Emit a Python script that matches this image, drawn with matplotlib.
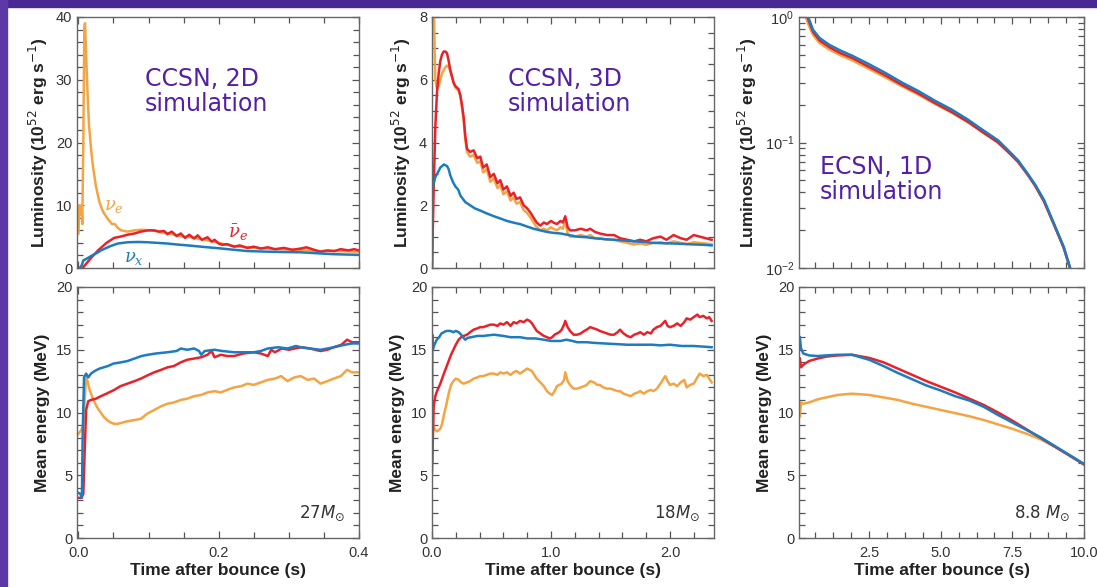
import matplotlib
matplotlib.use("Agg")
import matplotlib.pyplot as plt
from matplotlib.patches import Rectangle
from matplotlib.ticker import MultipleLocator, LogLocator, NullFormatter

plt.rcParams['font.family'] = ['Liberation Sans', 'DejaVu Sans']
plt.rcParams['mathtext.fontset'] = 'dejavusans'

ORANGE = '#f5a443'
RED = '#e8222a'
BLUE = '#1d7cc0'
PURPLE = '#5420a8'
INK = '#333333'

# ---- panel 1: CCSN 2D, 27 Msun ----
p1_t_nue = [0, 0.0015, 0.003, 0.0045, 0.0055, 0.007, 0.0085, 0.0095, 0.011, 0.013,
            0.015, 0.018, 0.021, 0.025, 0.03, 0.035, 0.042, 0.048, 0.052, 0.056,
            0.061, 0.07, 0.08, 0.09, 0.1, 0.11, 0.12, 0.13, 0.14, 0.15,
            0.16, 0.17, 0.18, 0.19, 0.2, 0.22, 0.25, 0.28, 0.31, 0.34,
            0.37, 0.4]
p1_lum_nue = [5.5, 10, 8.5, 10, 7, 20, 38.5, 39, 34, 28,
              23, 19, 16, 13, 10.5, 9.0, 7.8, 7.0, 7.0, 6.4,
              6.0, 5.8, 6.0, 6.1, 6.0, 5.9, 5.6, 5.5, 5.2, 5.0,
              4.9, 4.7, 4.5, 4.3, 4.0, 3.5, 3.2, 3.0, 2.9, 2.7,
              2.7, 2.6]
p1_t_nuebar = [0.006, 0.012, 0.018, 0.023, 0.028, 0.032, 0.04, 0.051, 0.06, 0.07,
               0.08, 0.089, 0.099, 0.108, 0.115, 0.122, 0.127, 0.133, 0.14, 0.146,
               0.152, 0.158, 0.165, 0.17, 0.176, 0.184, 0.19, 0.194, 0.2, 0.205,
               0.212, 0.222, 0.23, 0.241, 0.25, 0.26, 0.27, 0.28, 0.293, 0.305,
               0.317, 0.325, 0.336, 0.345, 0.355, 0.365, 0.374, 0.385, 0.393, 0.4]
p1_lum_nuebar = [0, 0.8, 1.6, 2.2, 2.8, 3.2, 4.0, 4.8, 5.0, 5.3,
                 5.5, 5.8, 6.0, 6.0, 5.8, 5.9, 5.4, 5.8, 5.1, 5.5,
                 4.8, 5.3, 4.7, 5.2, 4.5, 4.9, 4.2, 4.5, 3.9, 3.7,
                 3.8, 3.4, 3.6, 3.2, 3.4, 3.1, 3.3, 3.0, 3.2, 2.9,
                 3.1, 3.3, 2.9, 2.6, 2.8, 2.7, 3.0, 2.8, 3.0, 2.8]
p1_t_nux = [0.002, 0.005, 0.007, 0.012, 0.018, 0.023, 0.028, 0.032, 0.04, 0.046,
            0.056, 0.07, 0.085, 0.099, 0.113, 0.127, 0.14, 0.156, 0.17, 0.184,
            0.2, 0.213, 0.227, 0.241, 0.255, 0.27, 0.29, 0.317, 0.34, 0.364,
            0.38, 0.4]
p1_lum_nux = [0, 0.5, 1.2, 1.5, 1.9, 2.2, 2.5, 2.8, 3.2, 3.5,
              3.9, 4.1, 4.15, 4.1, 4.0, 3.9, 3.75, 3.6, 3.45, 3.3,
              3.15, 3.0, 2.85, 2.7, 2.65, 2.6, 2.55, 2.5, 2.35, 2.2,
              2.15, 2.1]

p1_te_nue = [0, 0.004, 0.007, 0.009, 0.011, 0.013, 0.016, 0.02, 0.024, 0.028,
             0.033, 0.037, 0.042, 0.046, 0.051, 0.056, 0.063, 0.07, 0.08, 0.089,
             0.098, 0.108, 0.118, 0.127, 0.136, 0.146, 0.155, 0.165, 0.175, 0.184,
             0.194, 0.203, 0.212, 0.222, 0.232, 0.241, 0.25, 0.26, 0.27, 0.28,
             0.289, 0.298, 0.308, 0.317, 0.327, 0.336, 0.345, 0.355, 0.364, 0.374,
             0.383, 0.39, 0.4]
p1_e_nue = [8.3, 8.6, 9.0, 11, 12.8, 12.5, 11.8, 11.2, 10.7, 10.3,
            9.9, 9.6, 9.35, 9.2, 9.1, 9.1, 9.2, 9.3, 9.4, 9.5,
            9.9, 10.2, 10.5, 10.7, 10.8, 11.0, 11.1, 11.3, 11.4, 11.6,
            11.7, 11.6, 11.8, 12.0, 12.1, 12.3, 12.2, 12.4, 12.6, 12.7,
            12.9, 12.5, 12.8, 12.9, 12.6, 12.7, 12.3, 12.5, 12.7, 12.9,
            13.4, 13.2, 13.2]
p1_te_nuebar = [0, 0.004, 0.007, 0.009, 0.011, 0.014, 0.018, 0.025, 0.032, 0.04,
                0.051, 0.06, 0.07, 0.08, 0.089, 0.1, 0.108, 0.118, 0.127, 0.136,
                0.146, 0.155, 0.165, 0.175, 0.184, 0.19, 0.194, 0.203, 0.212, 0.222,
                0.235, 0.25, 0.26, 0.27, 0.275, 0.28, 0.29, 0.3, 0.317, 0.33,
                0.345, 0.355, 0.364, 0.375, 0.383, 0.39, 0.4]
p1_e_nuebar = [3.2, 3.2, 3.5, 7, 10.2, 10.9, 11.0, 11.1, 11.3, 11.5,
               11.8, 12.1, 12.3, 12.5, 12.7, 13.0, 13.2, 13.4, 13.6, 13.7,
               14.0, 14.2, 14.3, 14.4, 14.6, 14.9, 14.4, 14.6, 14.5, 14.5,
               14.7, 14.8, 14.7, 14.5, 15.0, 14.8, 15.1, 15.0, 15.2, 15.1,
               14.9, 15.0, 15.2, 15.4, 15.8, 15.6, 15.6]
p1_te_nux = [0, 0.003, 0.005, 0.006, 0.008, 0.011, 0.014, 0.018, 0.023, 0.03,
             0.042, 0.05, 0.061, 0.07, 0.08, 0.09, 0.099, 0.11, 0.127, 0.14,
             0.146, 0.155, 0.165, 0.172, 0.175, 0.18, 0.194, 0.205, 0.222, 0.235,
             0.25, 0.26, 0.27, 0.285, 0.298, 0.31, 0.317, 0.33, 0.345, 0.355,
             0.364, 0.38, 0.39, 0.4]
p1_e_nux = [3.6, 3.5, 3.2, 8, 12.8, 13.1, 12.8, 13.1, 13.3, 13.5,
            13.7, 13.9, 14.0, 14.1, 14.3, 14.5, 14.6, 14.7, 14.8, 14.9,
            15.1, 15.0, 15.1, 14.9, 14.6, 14.9, 15.0, 14.9, 14.8, 14.8,
            14.8, 14.9, 15.1, 15.2, 15.1, 15.3, 15.2, 15.1, 15.0, 15.1,
            15.2, 15.4, 15.5, 15.5]

# ---- panel 2: CCSN 3D, 18 Msun ----
p2_t = [0.0, 0.014, 0.028, 0.042, 0.056, 0.07, 0.084, 0.098, 0.112, 0.126,
        0.14, 0.154, 0.168, 0.182, 0.196, 0.21, 0.224, 0.238, 0.252, 0.266,
        0.28, 0.294, 0.32, 0.35, 0.38, 0.406, 0.43, 0.46, 0.49, 0.52,
        0.55, 0.574, 0.6, 0.63, 0.66, 0.686, 0.71, 0.74, 0.77, 0.8,
        0.83, 0.854, 0.88, 0.91, 0.94, 0.966, 1.0, 1.02, 1.05, 1.08,
        1.1, 1.12, 1.14, 1.16, 1.2, 1.25, 1.3, 1.33, 1.37, 1.41,
        1.47, 1.53, 1.58, 1.64, 1.7, 1.75, 1.8, 1.86, 1.92, 1.97,
        2.03, 2.09, 2.14, 2.2, 2.25, 2.3, 2.35]
p2_lum_nuebar = [0.0, 2.5, 4.5, 5.6, 6.2, 6.6, 6.8, 6.9, 6.9, 6.85,
                 6.6, 6.3, 6.1, 5.9, 5.8, 5.75, 5.7, 5.5, 5.2, 4.8,
                 4.2, 3.8, 3.7, 3.75, 3.5, 3.55, 3.2, 3.3, 2.9, 3.0,
                 2.7, 2.8, 2.5, 2.6, 2.3, 2.4, 2.2, 2.25, 2.0, 1.9,
                 1.75, 1.6, 1.45, 1.35, 1.45, 1.4, 1.5, 1.45, 1.4, 1.5,
                 1.45, 1.65, 1.3, 1.2, 1.2, 1.25, 1.2, 1.25, 1.15, 1.1,
                 1.05, 1.05, 0.95, 0.9, 0.85, 0.9, 0.85, 0.95, 1.0, 0.9,
                 1.05, 0.95, 0.9, 1.05, 1.0, 0.95, 0.9]
p2_lum_nue = [8.5, 8.5, 6.0, 5.7, 5.8, 6.0, 6.2, 6.3, 6.4, 6.45,
              6.4, 6.3, 6.1, 5.9, 5.75, 5.7, 5.65, 5.5, 5.1, 4.7,
              4.1, 3.7, 3.55, 3.6, 3.35, 3.4, 3.05, 3.15, 2.75, 2.85,
              2.55, 2.65, 2.35, 2.45, 2.15, 2.25, 2.05, 2.1, 1.85, 1.75,
              1.6, 1.45, 1.3, 1.2, 1.25, 1.2, 1.3, 1.25, 1.2, 1.3,
              1.25, 1.5, 1.1, 1.0, 1.0, 1.05, 1.0, 1.05, 0.95, 0.95,
              0.9, 0.9, 0.85, 0.8, 0.75, 0.78, 0.74, 0.8, 0.82, 0.78,
              0.85, 0.8, 0.76, 0.82, 0.8, 0.78, 0.75]
p2_t_nux = [0, 0.005, 0.014, 0.028, 0.05, 0.07, 0.1, 0.126, 0.14, 0.154,
            0.175, 0.196, 0.22, 0.24, 0.26, 0.28, 0.3, 0.32, 0.36, 0.406,
            0.46, 0.52, 0.58, 0.63, 0.69, 0.74, 0.8, 0.854, 0.91, 0.966,
            1.02, 1.08, 1.15, 1.22, 1.3, 1.36, 1.45, 1.53, 1.6, 1.7,
            1.78, 1.86, 1.95, 2.03, 2.1, 2.2, 2.28, 2.35]
p2_lum_nux = [0, 2.5, 2.7, 2.9, 3.05, 3.2, 3.3, 3.25, 3.15, 2.95,
              2.75, 2.6, 2.5, 2.3, 2.2, 2.1, 2.05, 2.0, 1.9, 1.83,
              1.74, 1.65, 1.57, 1.5, 1.44, 1.4, 1.32, 1.25, 1.2, 1.15,
              1.12, 1.1, 1.05, 1.0, 0.98, 0.95, 0.92, 0.9, 0.88, 0.85,
              0.83, 0.8, 0.79, 0.78, 0.77, 0.75, 0.74, 0.72]

p2e_t = [0, 0.014, 0.028, 0.042, 0.056, 0.07, 0.085, 0.1, 0.12, 0.14,
         0.16, 0.18, 0.2, 0.224, 0.245, 0.266, 0.294, 0.32, 0.35, 0.38,
         0.406, 0.43, 0.46, 0.49, 0.52, 0.55, 0.574, 0.6, 0.63, 0.66,
         0.686, 0.71, 0.74, 0.77, 0.8, 0.82, 0.84, 0.86, 0.88, 0.91,
         0.94, 0.966, 0.99, 1.01, 1.03, 1.05, 1.07, 1.09, 1.11, 1.12,
         1.14, 1.16, 1.19, 1.22, 1.25, 1.28, 1.3, 1.33, 1.36, 1.39,
         1.41, 1.44, 1.47, 1.5, 1.53, 1.56, 1.58, 1.61, 1.64, 1.67,
         1.7, 1.73, 1.75, 1.78, 1.81, 1.84, 1.86, 1.89, 1.92, 1.94,
         1.96, 1.98, 2.0, 2.03, 2.06, 2.09, 2.12, 2.14, 2.17, 2.2,
         2.23, 2.25, 2.28, 2.31, 2.33, 2.35]
p2_e_nuebar = [5.2, 10.5, 11.3, 11.7, 12.0, 12.3, 12.7, 13.1, 13.6, 14.1,
               14.6, 15.0, 15.4, 15.8, 16.0, 16.1, 16.2, 16.4, 16.6, 16.7,
               16.8, 16.8, 16.9, 17.0, 17.0, 16.9, 17.1, 17.0, 17.2, 16.9,
               17.2, 17.1, 17.3, 17.2, 17.4, 17.3, 17.1, 16.8, 16.5, 16.3,
               16.1, 16.0, 15.9, 16.0, 16.2, 16.3, 16.4, 16.6, 17.0, 17.3,
               16.8, 16.5, 16.2, 16.2, 16.3, 16.5, 16.6, 16.8, 16.7, 16.6,
               16.5, 16.4, 16.3, 16.2, 16.2, 16.4, 16.6, 16.3, 16.1, 16.0,
               16.2, 16.3, 16.4, 16.2, 16.4, 16.3, 16.6, 16.8, 16.9, 17.1,
               17.3, 16.9, 16.8, 16.9, 17.1, 16.9, 17.2, 17.5, 17.4, 17.6,
               17.8, 17.6, 17.7, 17.5, 17.6, 17.3]
p2_e_nue = [10.0, 8.8, 8.6, 8.5, 8.6, 8.7, 9.1, 9.8, 10.6, 11.5,
            12.2, 12.5, 12.7, 12.6, 12.4, 12.3, 12.4, 12.5, 12.7, 12.8,
            12.9, 12.9, 13.0, 13.1, 13.1, 13.0, 13.2, 13.1, 13.2, 13.0,
            13.2, 13.3, 13.1, 13.3, 13.5, 13.4, 13.3, 13.0, 12.7, 12.4,
            12.1, 11.7, 11.5, 11.4, 11.7, 12.1, 12.2, 12.3, 12.6, 13.2,
            12.5, 12.2, 11.9, 11.9, 12.0, 12.1, 12.2, 12.5, 12.4, 12.2,
            12.2, 12.0, 11.9, 11.9, 11.8, 11.7, 11.7, 11.5, 11.4, 11.3,
            11.5, 11.6, 11.7, 11.5, 11.7, 11.8, 11.7, 11.9, 12.3, 12.6,
            12.9, 12.5, 12.2, 12.3, 12.1, 12.4, 12.6, 12.0, 12.2, 12.3,
            12.8, 13.1, 12.9, 13.0, 12.7, 12.4]
p2e_t_nux = [0, 0.003, 0.007, 0.02, 0.04, 0.06, 0.08, 0.1, 0.12, 0.154, 0.18,
             0.2, 0.224, 0.245, 0.26, 0.28, 0.3, 0.33, 0.38, 0.43, 0.52,
             0.6, 0.66, 0.74, 0.8, 0.87, 0.94, 1.0, 1.08, 1.13, 1.18,
             1.22, 1.3, 1.36, 1.45, 1.55, 1.64, 1.75, 1.85, 1.92, 2.0,
             2.1, 2.2, 2.28, 2.35]
p2_e_nux = [6.0, 16.2, 15.0, 15.4, 15.8, 16.0, 16.3, 16.4, 16.5, 16.5, 16.4,
            16.5, 16.4, 16.2, 16.0, 15.8, 15.95, 16.0, 16.1, 16.1, 16.2,
            16.1, 16.0, 16.0, 15.9, 15.9, 15.8, 15.7, 15.7, 15.8, 15.7,
            15.6, 15.6, 15.55, 15.5, 15.45, 15.4, 15.4, 15.4, 15.35, 15.4,
            15.3, 15.3, 15.25, 15.2]

# ---- panel 3: ECSN 1D, 8.8 Msun ----
p3l_t = [0.1, 0.25, 0.37, 0.54, 0.77, 1.11, 1.5, 1.92, 2.5, 3.07,
         3.65, 4.23, 4.8, 5.38, 5.95, 6.53, 7.0, 7.33, 7.7, 8.02,
         8.3, 8.6, 8.94, 9.29, 9.52, 9.7]
p3_lum_nux = [1.8, 1.25, 1.0, 0.79, 0.68, 0.60, 0.54, 0.49, 0.42, 0.358,
              0.30, 0.256, 0.215, 0.183, 0.152, 0.123, 0.104, 0.0877, 0.072, 0.057,
              0.046, 0.035, 0.0229, 0.0148, 0.01, 0.0075]
p3_lum_nuebar = [1.7, 1.2, 0.96, 0.76, 0.65, 0.575, 0.515, 0.47, 0.4, 0.342,
                 0.287, 0.245, 0.206, 0.175, 0.146, 0.118, 0.1, 0.085, 0.07, 0.056,
                 0.045, 0.034, 0.0225, 0.0145, 0.0098, 0.0074]
p3_lum_nue = [1.5, 1.05, 0.88, 0.72, 0.62, 0.55, 0.495, 0.45, 0.385, 0.33,
              0.28, 0.24, 0.203, 0.173, 0.145, 0.118, 0.1, 0.085, 0.07, 0.056,
              0.045, 0.034, 0.0225, 0.0145, 0.0098, 0.0074]
p3e_t = [0.08, 0.12, 0.2, 0.4, 0.7, 1.0, 1.4, 1.9, 2.5, 3.0,
         3.5, 4.0, 4.5, 5.0, 5.5, 6.0, 6.5, 7.0, 7.5, 8.0,
         8.5, 9.0, 9.5, 10.0]
p3_e_nux = [16.0, 15.1, 14.7, 14.55, 14.5, 14.55, 14.6, 14.6, 14.2, 13.7,
            13.15, 12.65, 12.15, 11.75, 11.3, 10.95, 10.45, 9.8, 9.2, 8.6,
            8.0, 7.3, 6.6, 5.9]
p3_e_nuebar = [14.3, 13.6, 13.8, 14.1, 14.3, 14.45, 14.55, 14.6, 14.35, 14.0,
               13.5, 13.0, 12.5, 12.05, 11.6, 11.1, 10.6, 10.0, 9.35, 8.65,
               7.95, 7.25, 6.55, 5.85]
p3_e_nue = [9.7, 10.8, 10.7, 10.8, 11.05, 11.2, 11.4, 11.5, 11.4, 11.2,
            11.0, 10.7, 10.45, 10.2, 9.95, 9.7, 9.4, 9.05, 8.7, 8.3,
            7.85, 7.25, 6.6, 5.9]

fig = plt.figure(figsize=(10.97, 5.87), dpi=100)
fig.patches.append(Rectangle((0, 1 - 7 / 587), 1, 7 / 587, transform=fig.transFigure,
                             color='#4a2894', zorder=0))
fig.patches.append(Rectangle((0, 0), 7 / 1097, 1, transform=fig.transFigure,
                             color='#5b3aa6', zorder=0))

cols = [(77, 359), (432, 714), (799, 1084)]
rows = [(17, 268), (287, 538)]
axes = []
for r in rows:
    row = []
    for c in cols:
        ax = fig.add_axes([c[0] / 1097, 1 - r[1] / 587, (c[1] - c[0]) / 1097, (r[1] - r[0]) / 587])
        row.append(ax)
    axes.append(row)

lw = 1.8


def style(ax, show_x):
    for s in ax.spines.values():
        s.set_color('#666666')
        s.set_linewidth(1.0)
    ax.tick_params(which='both', direction='in', top=True, right=True,
                   colors='#555555', labelcolor=INK, labelsize=10.5, width=0.9)
    ax.tick_params(which='major', length=5)
    ax.tick_params(which='minor', length=4)
    ax.tick_params(axis='x', pad=6)
    if not show_x:
        ax.tick_params(axis='x', labelbottom=False)
    else:
        ax.set_xlabel('Time after bounce (s)', fontsize=12.5, fontweight='bold', color='#222222', labelpad=2)


def note(ax, x, y, s):
    ax.text(x, y, s, transform=ax.transAxes, color=PURPLE, fontsize=17,
            family='DejaVu Sans', va='top', linespacing=1.05)


# panel 1 top
ax = axes[0][0]
ax.plot(p1_t_nue, p1_lum_nue, color=ORANGE, lw=lw)
ax.plot(p1_t_nuebar, p1_lum_nuebar, color=RED, lw=lw)
ax.plot(p1_t_nux, p1_lum_nux, color=BLUE, lw=lw)
ax.set_xlim(-0.002, 0.4)
ax.set_ylim(0, 40)
ax.xaxis.set_major_locator(MultipleLocator(0.2))
ax.xaxis.set_minor_locator(MultipleLocator(0.05))
ax.yaxis.set_major_locator(MultipleLocator(10))
ax.yaxis.set_minor_locator(MultipleLocator(2))
ax.text(0.051, 9.2, r'$\nu_e$', color=ORANGE, fontsize=13, ha='center', math_fontfamily='dejavuserif')
ax.text(0.228, 4.8, r'$\bar{\nu}_e$', color=RED, fontsize=13, ha='center', math_fontfamily='dejavuserif')
ax.text(0.079, 0.9, r'$\nu_x$', color=BLUE, fontsize=13, ha='center', math_fontfamily='dejavuserif')
note(ax, 0.24, 0.80, 'CCSN, 2D\nsimulation')

# panel 1 bottom
ax = axes[1][0]
ax.plot(p1_te_nue, p1_e_nue, color=ORANGE, lw=lw)
ax.plot(p1_te_nuebar, p1_e_nuebar, color=RED, lw=lw)
ax.plot(p1_te_nux, p1_e_nux, color=BLUE, lw=lw)
ax.set_xlim(-0.002, 0.4)
ax.set_ylim(0, 20)
ax.xaxis.set_major_locator(MultipleLocator(0.2))
ax.xaxis.set_minor_locator(MultipleLocator(0.05))
ax.xaxis.set_major_formatter(lambda v, p: f'{v:.1f}')

# panel 2 top
ax = axes[0][1]
ax.plot(p2_t, p2_lum_nue, color=ORANGE, lw=lw)
ax.plot(p2_t, p2_lum_nuebar, color=RED, lw=lw)
ax.plot(p2_t_nux, p2_lum_nux, color=BLUE, lw=lw)
ax.set_xlim(0, 2.37)
ax.set_ylim(0, 8)
ax.xaxis.set_major_locator(MultipleLocator(1.0))
ax.xaxis.set_minor_locator(MultipleLocator(0.2))
ax.yaxis.set_major_locator(MultipleLocator(2))
ax.yaxis.set_minor_locator(MultipleLocator(0.5))
note(ax, 0.27, 0.80, 'CCSN, 3D\nsimulation')

# panel 2 bottom
ax = axes[1][1]
ax.plot(p2e_t, p2_e_nue, color=ORANGE, lw=lw)
ax.plot(p2e_t, p2_e_nuebar, color=RED, lw=lw)
ax.plot(p2e_t_nux, p2_e_nux, color=BLUE, lw=lw)
ax.set_xlim(0, 2.37)
ax.set_ylim(0, 20)
ax.xaxis.set_major_locator(MultipleLocator(1.0))
ax.xaxis.set_minor_locator(MultipleLocator(0.2))
ax.xaxis.set_major_formatter(lambda v, p: f'{v:.1f}')

# panel 3 top
ax = axes[0][2]
ax.plot(p3l_t, p3_lum_nue, color=ORANGE, lw=lw)
ax.plot(p3l_t, p3_lum_nuebar, color=RED, lw=lw)
ax.plot(p3l_t, p3_lum_nux, color=BLUE, lw=lw)
ax.set_yscale('log')
ax.set_xlim(0.05, 10)
ax.set_ylim(0.01, 1)
ax.xaxis.set_major_locator(MultipleLocator(2.5))
ax.xaxis.set_minor_locator(MultipleLocator(0.625))
ax.yaxis.set_major_locator(LogLocator(base=10))
ax.yaxis.set_minor_locator(LogLocator(base=10, subs=range(2, 10)))
ax.yaxis.set_minor_formatter(NullFormatter())
note(ax, 0.074, 0.45, 'ECSN, 1D\nsimulation')

# panel 3 bottom
ax = axes[1][2]
ax.plot(p3e_t, p3_e_nue, color=ORANGE, lw=lw)
ax.plot(p3e_t, p3_e_nuebar, color=RED, lw=lw)
ax.plot(p3e_t, p3_e_nux, color=BLUE, lw=lw)
ax.set_xlim(0.05, 10)
ax.set_ylim(0, 20)
ax.xaxis.set_major_locator(MultipleLocator(2.5))
ax.xaxis.set_minor_locator(MultipleLocator(0.625))
ax.xaxis.set_major_formatter(lambda v, p: f'{v:.1f}' if v > 0.1 else '')

for ax in axes[1]:
    ax.yaxis.set_major_locator(MultipleLocator(5))
    ax.yaxis.set_minor_locator(MultipleLocator(1))

for ax in axes[0]:
    style(ax, False)
    ax.set_ylabel('Luminosity (10$^{52}$ erg s$^{-1}$)', fontsize=12.5, fontweight='bold',
                  color='#222222', labelpad=4)
for ax in axes[1]:
    style(ax, True)
    ax.set_ylabel('Mean energy (MeV)', fontsize=12.5, fontweight='bold', color='#222222', labelpad=4)

mass_labels = ['27$M_{\\odot}$', '18$M_{\\odot}$', '8.8 $M_{\\odot}$']
for ax, lab in zip(axes[1], mass_labels):
    ax.text(0.95, 0.06, lab, transform=ax.transAxes, ha='right', va='bottom',
            fontsize=12, color=INK, family='DejaVu Sans')

fig.savefig('out.png', dpi=100, facecolor='white')
